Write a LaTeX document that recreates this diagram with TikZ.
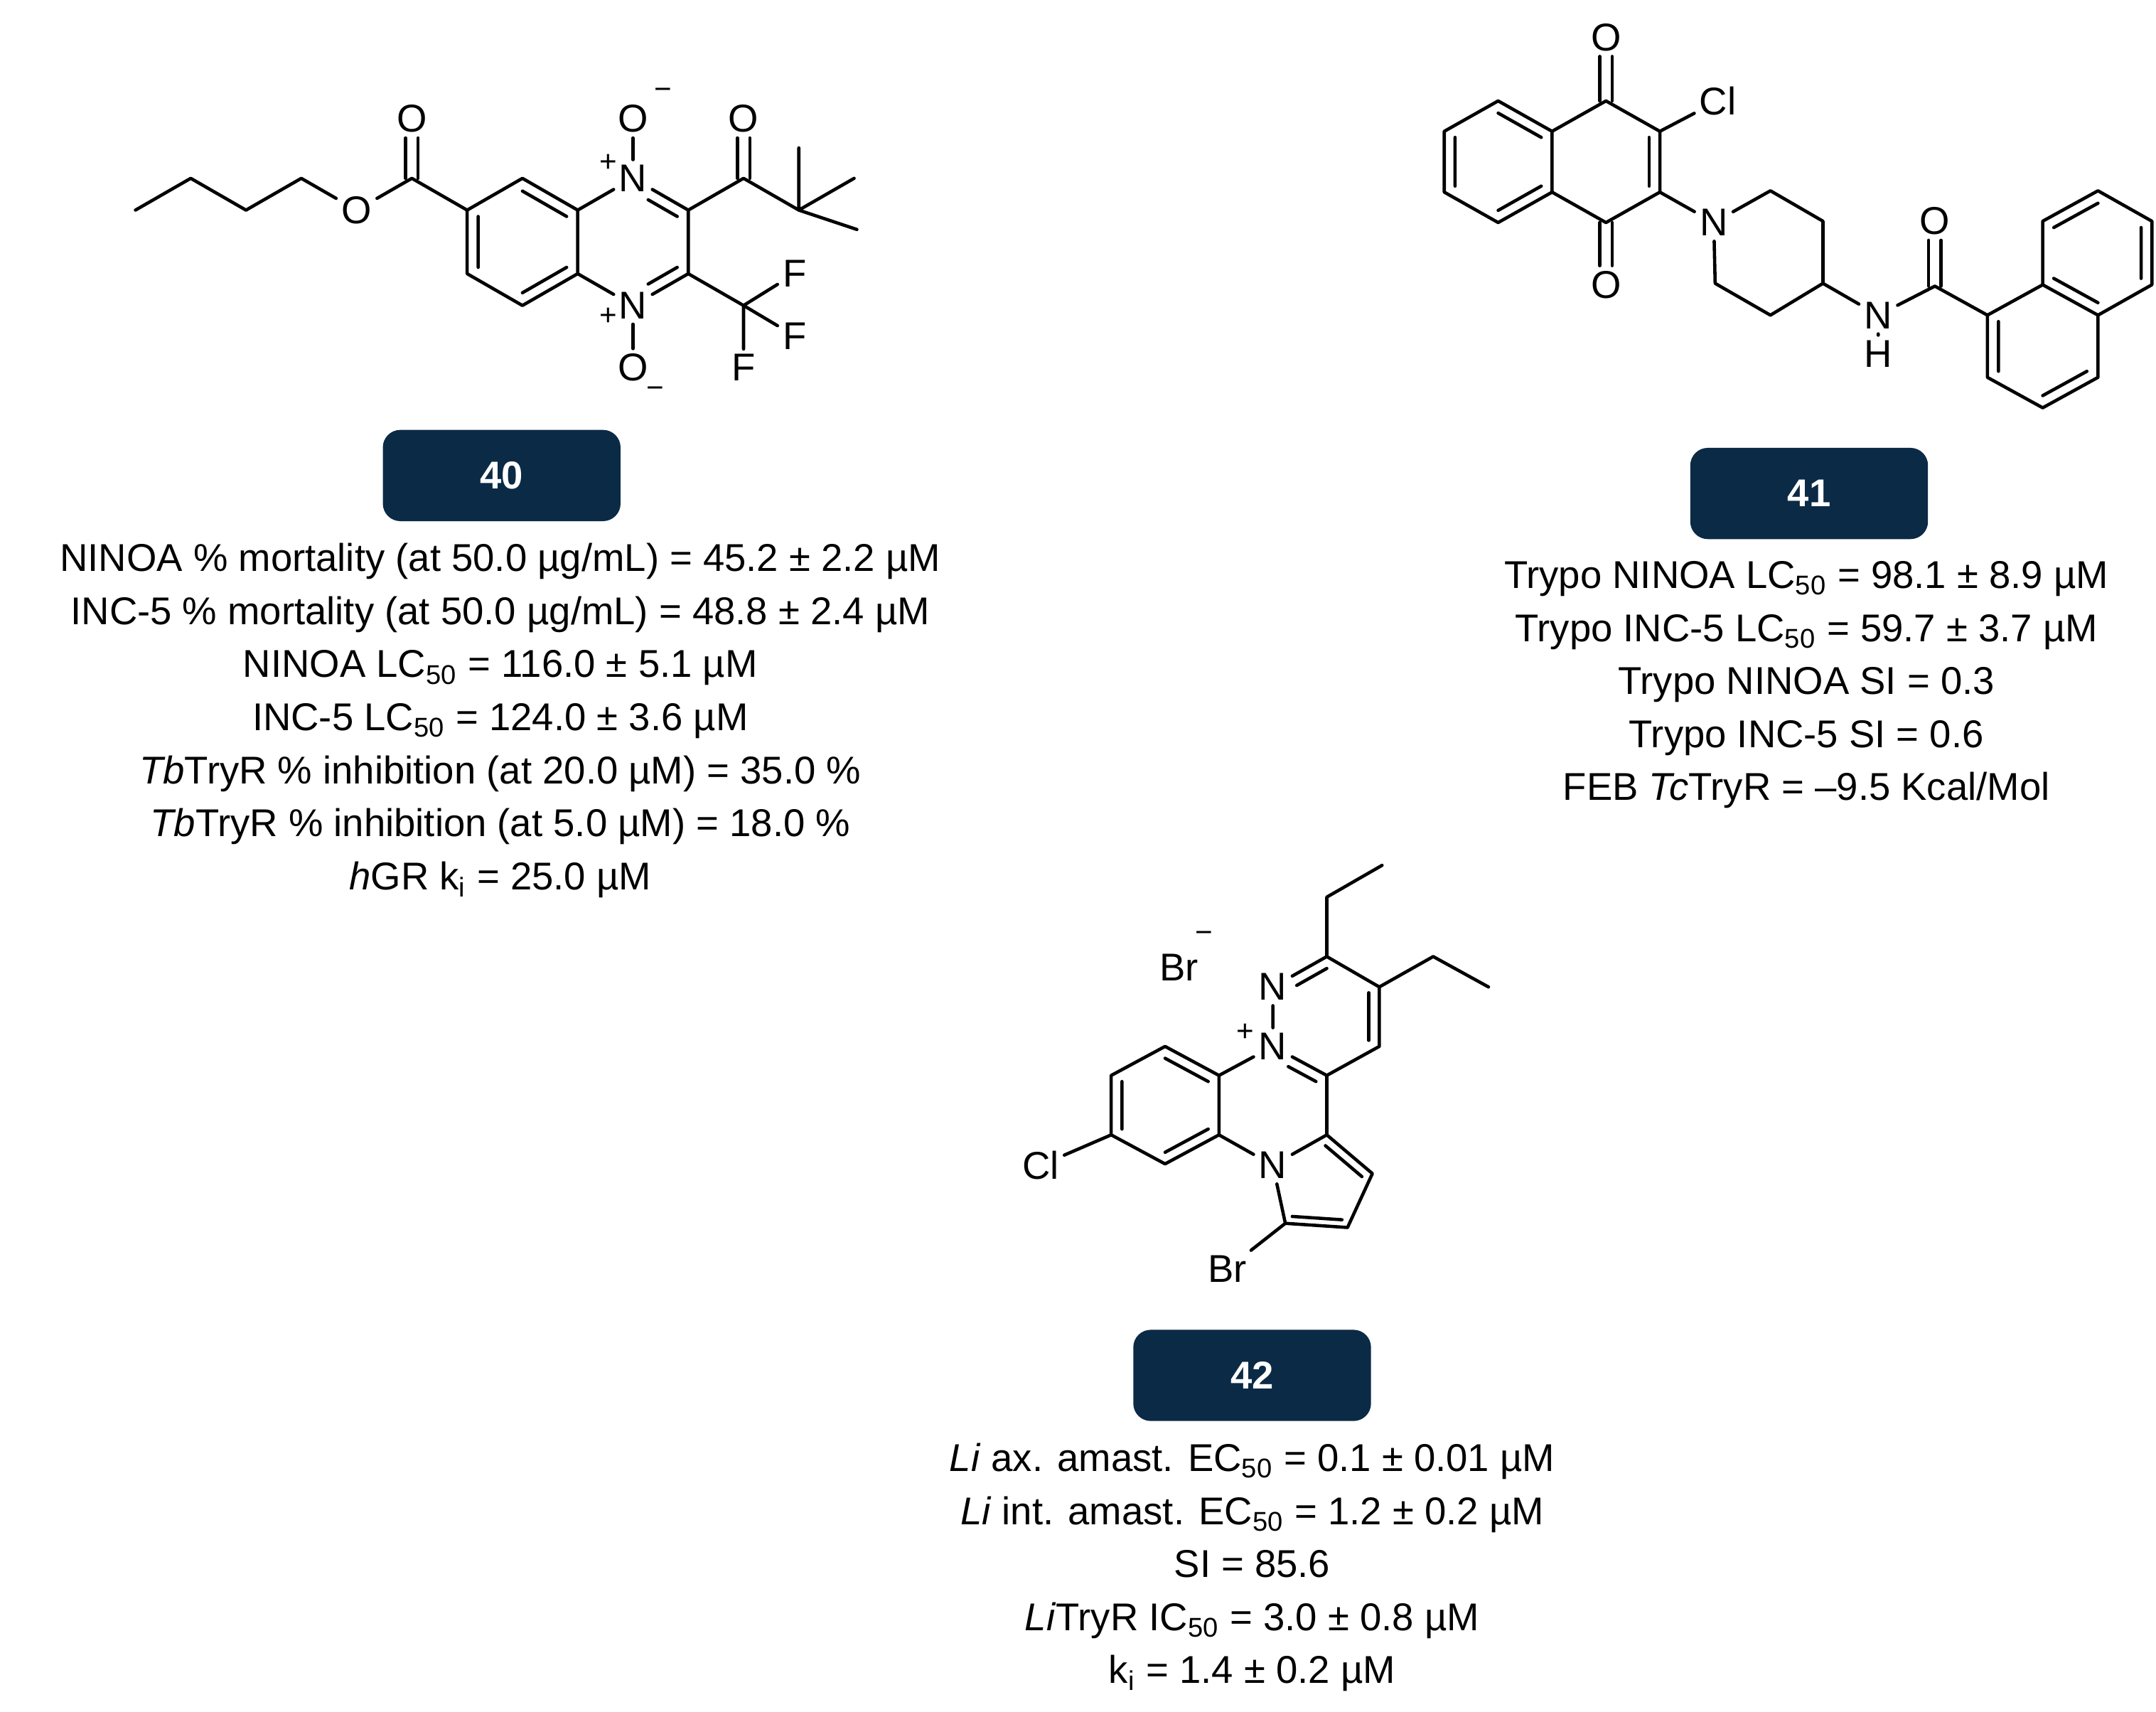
\documentclass[tikz,border=0pt]{standalone}
\usepackage{fontspec}
\setmainfont{Liberation Sans}
\usetikzlibrary{calc}
\definecolor{badge_blue}{RGB}{11,42,70}
\newcommand\lo[1]{\textsubscript{#1}}
\begin{document}
\begin{tikzpicture}[x=0.01944cm,y=-0.01944cm,line width=1.3pt,line cap=round,line join=round]
    \tikzstyle{atom}=[inner sep=1.5pt, font=\fontsize{15.5}{16}\selectfont]
    \tikzstyle{chg}=[inner sep=0pt, font=\fontsize{12}{12}\selectfont]
    \tikzstyle{badge}=[fill=badge_blue, rounded corners=7pt, text=white, font=\fontsize{15.5}{16}\selectfont\bfseries, minimum width=172*0.01944cm, minimum height=66*0.01944cm]
    \tikzstyle{info}=[align=center, anchor=north, inner sep=0pt, font=\fontsize{15.5}{21.2}\selectfont]
    \useasboundingbox (0,0) rectangle (1560,1238.5);

    % compound 40
    \coordinate (a1) at (378,129); \coordinate (a2) at (418,152); \coordinate (a3) at (418,198);
    \coordinate (a4) at (378,221); \coordinate (a5) at (338,198); \coordinate (a6) at (338,152);
    \coordinate (b2) at (498,152); \coordinate (b3) at (498,198);
    \coordinate (cL) at (378,175); \coordinate (cR) at (458,175);
    \node[atom] (n1) at (458,129) {N};
    \node[atom] (n4) at (458,221) {N};
    \node[atom] (ot) at (458,86) {O};
    \node[atom] (ob) at (458,266) {O};
    \node[chg] at (440,118) {+}; \node[chg] at (440,229) {+};
    \node[chg] at (480,68) {\textminus}; \node[chg] at (474,284) {\textminus};
    \coordinate (ce) at (298,129);
    \node[atom] (oe) at (298,86) {O};
    \node[atom] (os) at (258,152) {O};
    \coordinate (k1) at (218,129); \coordinate (k2) at (178,152);
    \coordinate (k3) at (138,129); \coordinate (k4) at (98,152);
    \coordinate (ck) at (538,129);
    \node[atom] (ok) at (538,86) {O};
    \coordinate (tb) at (578,152);
    \coordinate (m1) at (578,107); \coordinate (m2) at (618,129); \coordinate (m3) at (620,166);
    \coordinate (cf) at (538,221);
    \node[atom] (f1) at (575,198) {F};
    \node[atom] (f2) at (575,243) {F};
    \node[atom] (f3) at (538,266) {F};
    \draw (a1) -- (a2) -- (a3) -- (a4) -- (a5) -- (a6) -- cycle;
    \draw (a2) -- (n1) -- (b2) -- (b3) -- (n4) -- (a3);
    \draw (n1) -- (ot) (n4) -- (ob);
    \draw ($(a1)!0.2!(cL)$) -- ($(a2)!0.2!(cL)$) ($(a3)!0.2!(cL)$) -- ($(a4)!0.2!(cL)$) ($(a5)!0.2!(cL)$) -- ($(a6)!0.2!(cL)$);
    \draw[shorten <=7pt] ($(n1)!0.2!(cR)$) -- ($(b2)!0.2!(cR)$);
    \draw[shorten >=7pt] ($(b3)!0.2!(cR)$) -- ($(n4)!0.2!(cR)$);
    \draw (a6) -- (ce) -- (os) -- (k1) -- (k2) -- (k3) -- (k4);
    \draw ([xshift=-2.5pt]ce) -- ([xshift=-2.5pt]oe.south) ([xshift=2.5pt]ce) -- ([xshift=2.5pt]oe.south);
    \draw (b2) -- (ck) -- (tb) (m1) -- (tb) -- (m2) (tb) -- (m3);
    \draw ([xshift=-2.5pt]ck) -- ([xshift=-2.5pt]ok.south) ([xshift=2.5pt]ck) -- ([xshift=2.5pt]ok.south);
    \draw (b3) -- (cf) (f1) -- (cf) -- (f2) (cf) -- (f3);
    \node[badge] (t40) at (363,344) {40};
    \node[info] (d40) at (362,392) {NINOA \% mortality (at 50.0 µg/mL) = 45.2 ± 2.2 µM\\
      INC-5 \% mortality (at 50.0 µg/mL) = 48.8 ± 2.4 µM\\
      NINOA LC\lo{50} = 116.0 ± 5.1 µM\\
      INC-5 LC\lo{50} = 124.0 ± 3.6 µM\\
      \textit{Tb}TryR \% inhibition (at 20.0 µM) = 35.0 \%\\
      \textit{Tb}TryR \% inhibition (at 5.0 µM) = 18.0 \%\\
      \textit{h}GR k\lo{i} = 25.0 µM};

    % compound 41
    \coordinate (q1) at (1162,73); \coordinate (q2) at (1201,95); \coordinate (q3) at (1201,139);
    \coordinate (q4) at (1162,161); \coordinate (q5) at (1123,139); \coordinate (q6) at (1123,95);
    \coordinate (p1) at (1084,73); \coordinate (p2) at (1045,95); \coordinate (p3) at (1045,139);
    \coordinate (p4) at (1084,161);
    \coordinate (cQ) at (1162,117); \coordinate (cP) at (1084,117);
    \node[atom] (qo1) at (1162,27) {O};
    \node[atom] (qo2) at (1162,206) {O};
    \node[atom] (cl1) at (1243,73) {Cl};
    \node[atom] (np) at (1240,161) {N};
    \coordinate (r1) at (1281,138); \coordinate (r2) at (1319,160); \coordinate (r3) at (1319,205);
    \coordinate (r4) at (1281,228); \coordinate (r5) at (1241,205);
    \node[atom] (nh) at (1359,228) {N};
    \node[atom] (hh) at (1359,256) {H};
    \coordinate (ca) at (1400,207);
    \node[atom] (oa) at (1400,160) {O};
    \coordinate (s1) at (1438,228); \coordinate (s2) at (1478,206); \coordinate (s3) at (1478,160);
    \coordinate (s4) at (1518,138); \coordinate (s5) at (1557,160); \coordinate (s6) at (1557,206);
    \coordinate (s7) at (1518,228); \coordinate (s8) at (1518,273); \coordinate (s9) at (1478,295);
    \coordinate (s10) at (1438,273);
    \coordinate (cS) at (1518,183); \coordinate (cT) at (1478,251);
    \draw (q1) -- (q2) -- (q3) -- (q4) -- (q5) -- (q6) -- cycle;
    \draw (q6) -- (p1) -- (p2) -- (p3) -- (p4) -- (q5);
    \draw ($(p1)!0.2!(cP)$) -- ($(q6)!0.2!(cP)$) ($(p2)!0.2!(cP)$) -- ($(p3)!0.2!(cP)$) ($(p4)!0.2!(cP)$) -- ($(q5)!0.2!(cP)$);
    \draw ($(q2)!0.2!(cQ)$) -- ($(q3)!0.2!(cQ)$);
    \draw ([xshift=-2.5pt]q1) -- ([xshift=-2.5pt]qo1.south) ([xshift=2.5pt]q1) -- ([xshift=2.5pt]qo1.south);
    \draw ([xshift=-2.5pt]q4) -- ([xshift=-2.5pt]qo2.north) ([xshift=2.5pt]q4) -- ([xshift=2.5pt]qo2.north);
    \draw (q2) -- (cl1) (q3) -- (np) -- (r1) -- (r2) -- (r3) -- (r4) -- (r5) -- (np);
    \draw (r3) -- (nh) -- (ca) -- (s1) (nh) -- (hh);
    \draw ([xshift=-2.5pt]ca) -- ([xshift=-2.5pt]oa.south) ([xshift=2.5pt]ca) -- ([xshift=2.5pt]oa.south);
    \draw (s1) -- (s2) -- (s3) -- (s4) -- (s5) -- (s6) -- (s7) -- (s2) (s7) -- (s8) -- (s9) -- (s10) -- (s1);
    \draw ($(s3)!0.2!(cS)$) -- ($(s4)!0.2!(cS)$) ($(s5)!0.2!(cS)$) -- ($(s6)!0.2!(cS)$) ($(s2)!0.2!(cS)$) -- ($(s7)!0.2!(cS)$);
    \draw ($(s1)!0.2!(cT)$) -- ($(s10)!0.2!(cT)$) ($(s8)!0.2!(cT)$) -- ($(s9)!0.2!(cT)$);
    \node[badge] (t41) at (1309,357) {41};
    \node[info] (d41) at (1307,405) {Trypo NINOA LC\lo{50} = 98.1 ± 8.9 µM\\
      Trypo INC-5 LC\lo{50} = 59.7 ± 3.7 µM\\
      Trypo NINOA SI = 0.3\\
      Trypo INC-5 SI = 0.6\\
      FEB \textit{Tc}TryR = –9.5 Kcal/Mol};

    % compound 42
    \node[atom] (nd1) at (921,714) {N};
    \node[atom] (nd2) at (921,757) {N};
    \node[chg] at (901,747) {+};
    \node[atom] (brm) at (853,700) {Br};
    \node[chg] at (871,678) {\textminus};
    \coordinate (e3) at (960,692); \coordinate (e4) at (998,714); \coordinate (e5) at (998,757);
    \coordinate (e6) at (960,778);
    \coordinate (g1) at (960,649); \coordinate (g2) at (1000,626);
    \coordinate (h1) at (1037,692); \coordinate (h2) at (1077,714);
    \coordinate (u1) at (882,778); \coordinate (u2) at (843,757); \coordinate (u3) at (804,778);
    \coordinate (u4) at (804,821); \coordinate (u5) at (843,842); \coordinate (u6) at (882,821);
    \node[atom] (cl2) at (753,843) {Cl};
    \node[atom] (npy) at (921,843) {N};
    \coordinate (v1) at (960,821); \coordinate (v2) at (993,849); \coordinate (v3) at (975,888);
    \coordinate (v4) at (930,885);
    \node[atom] (brb) at (888,918) {Br};
    \coordinate (cU) at (843,800); \coordinate (cE) at (960,735); \coordinate (cM) at (921,800);
    \coordinate (cV) at (955,860);
    \draw (nd2) -- (nd1) -- (e3) -- (e4) -- (e5) -- (e6) -- (nd2) -- (u1);
    \draw (e3) -- (g1) -- (g2) (e4) -- (h1) -- (h2);
    \draw[shorten <=6pt] ($(nd1)!0.2!(cE)$) -- ($(e3)!0.2!(cE)$);
    \draw ($(e4)!0.2!(cE)$) -- ($(e5)!0.2!(cE)$);
    \draw[shorten <=7pt] ($(nd2)!0.2!(cM)$) -- ($(e6)!0.2!(cM)$);
    \draw (u1) -- (u2) -- (u3) -- (u4) -- (u5) -- (u6) -- cycle;
    \draw ($(u1)!0.2!(cU)$) -- ($(u2)!0.2!(cU)$) ($(u3)!0.2!(cU)$) -- ($(u4)!0.2!(cU)$) ($(u5)!0.2!(cU)$) -- ($(u6)!0.2!(cU)$);
    \draw (u4) -- (cl2) (u6) -- (npy) -- (v1) -- (e6) (v1) -- (v2) -- (v3) -- (v4) -- (npy) (v4) -- (brb);
    \draw ($(v1)!0.2!(cV)$) -- ($(v2)!0.2!(cV)$) ($(v3)!0.2!(cV)$) -- ($(v4)!0.2!(cV)$);
    \node[badge] (t42) at (906,995) {42};
    \node[info] (d42) at (906,1043) {\textit{Li} ax. amast. EC\lo{50} = 0.1 ± 0.01 µM\\
      \textit{Li} int. amast. EC\lo{50} = 1.2 ± 0.2 µM\\
      SI = 85.6\\
      \textit{Li}TryR IC\lo{50} = 3.0 ± 0.8 µM\\
      k\lo{i} = 1.4 ± 0.2 µM};
\end{tikzpicture}
\end{document}
